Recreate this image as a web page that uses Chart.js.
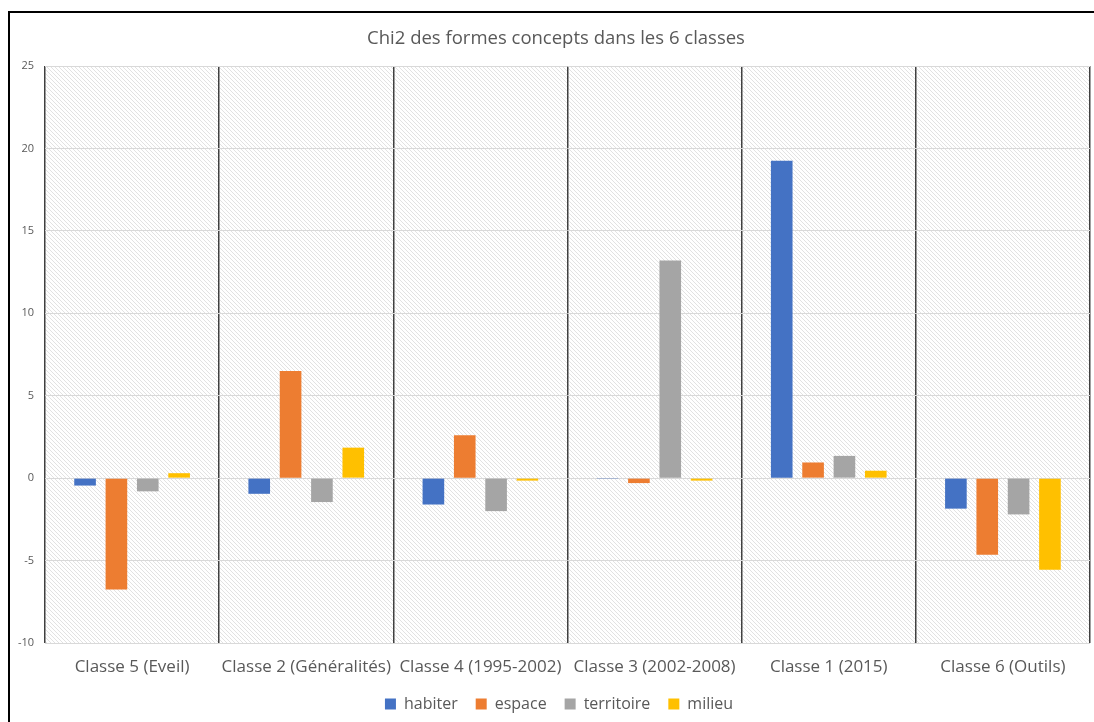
<!DOCTYPE html>
<html>
<head>
<meta charset="utf-8">
<script src="https://cdn.jsdelivr.net/npm/chart.js@4"></script>
<style>
  html, body { margin: 0; padding: 0; background: #ffffff; }
  #wrap { width: 1094px; height: 722px; position: relative; }
</style>
</head>
<body>
<div id="wrap"><canvas id="c" width="1094" height="722"></canvas></div>
<script>
const categories = ["Classe 5 (Eveil)", "Classe 2 (Généralités)", "Classe 4 (1995-2002)", "Classe 3 (2002-2008)", "Classe 1 (2015)", "Classe 6 (Outils)"];
const habiter    = [-0.45, -0.95, -1.6, -0.05, 19.25, -1.85];
const espace     = [-6.75,  6.5,   2.6, -0.3,   0.95, -4.65];
const territoire = [-0.8,  -1.45, -2.0, 13.2,   1.35, -2.2];
const milieu     = [ 0.3,   1.85, -0.15, -0.15, 0.45, -5.55];
const seriesNames = ["habiter", "espace", "territoire", "milieu"];
const yTicks = [-10, -5, 0, 5, 10, 15, 20, 25];
const titleText = "Chi2 des formes concepts dans les 6 classes";

const colors = ["#4472C4", "#ED7D31", "#A5A5A5", "#FFC000"];
const FONT = "'Open Sans', 'Liberation Sans', sans-serif";
const TXT = "#595959";

function makeHatch(ctx) {
  const t = document.createElement('canvas');
  t.width = 4; t.height = 4;
  const g = t.getContext('2d');
  g.fillStyle = '#ffffff';
  g.fillRect(0, 0, 4, 4);
  g.strokeStyle = '#e2e2e2';
  g.lineWidth = 1;
  g.beginPath();
  g.moveTo(-1, -1); g.lineTo(5, 5);
  g.moveTo(-1, 3); g.lineTo(1, 5);
  g.moveTo(3, -1); g.lineTo(5, 1);
  g.stroke();
  return ctx.createPattern(t, 'repeat');
}

const bgPlugin = {
  id: 'bg',
  afterLayout(chart) {
    const l = chart.legend;
    if (l) { l.left += 14; l.right += 14; }
  },
  beforeDraw(chart) {
    const ctx = chart.ctx;
    const a = chart.chartArea;
    ctx.save();
    ctx.fillStyle = '#ffffff';
    ctx.fillRect(0, 0, chart.width, chart.height);
    ctx.strokeStyle = '#000000';
    ctx.lineWidth = 2;
    ctx.beginPath();
    ctx.moveTo(9, chart.height + 5);
    ctx.lineTo(9, 12);
    ctx.lineTo(chart.width + 5, 12);
    ctx.stroke();
    ctx.fillStyle = makeHatch(ctx);
    ctx.fillRect(a.left, a.top, a.right - a.left, a.bottom - a.top);
    ctx.fillStyle = TXT;
    ctx.font = "18.5px " + FONT;
    ctx.textAlign = 'center';
    ctx.textBaseline = 'middle';
    ctx.fillText(titleText, 556, 39);
    ctx.restore();
  }
};

const datasets = [habiter, espace, territoire, milieu].map((d, i) => ({
  label: seriesNames[i],
  data: d,
  backgroundColor: colors[i],
  borderWidth: 0,
  categoryPercentage: 0.72,
  barPercentage: 0.69
}));

new Chart(document.getElementById('c'), {
  type: 'bar',
  data: { labels: categories, datasets },
  plugins: [bgPlugin],
  options: {
    responsive: false,
    animation: false,
    devicePixelRatio: 1,
    layout: { padding: { left: 0, right: 4, top: 66, bottom: 0 } },
    plugins: {
      title: { display: false },
      legend: {
        position: 'bottom',
        labels: {
          color: TXT,
          font: { family: FONT, size: 16 },
          boxWidth: 11,
          boxHeight: 11,
          padding: 18
        }
      },
      tooltip: { enabled: false }
    },
    scales: {
      x: {
        offset: true,
        afterFit(scale) { scale.height = 35; },
        grid: { display: true, offset: true, color: '#404040', lineWidth: 1.5, drawTicks: false },
        border: { display: false },
        ticks: { color: TXT, font: { family: FONT, size: 17 }, padding: 14, maxRotation: 0 }
      },
      y: {
        min: -10, max: 25,
        afterBuildTicks(scale) { scale.ticks = yTicks.map(v => ({ value: v })); },
        afterFit(scale) { scale.width = 45; },
        grid: { color: '#d9d9d9', lineWidth: 1, drawTicks: false },
        border: { display: false },
        ticks: { color: TXT, font: { family: FONT, size: 11 }, padding: 11 }
      }
    }
  }
});
</script>
</body>
</html>
